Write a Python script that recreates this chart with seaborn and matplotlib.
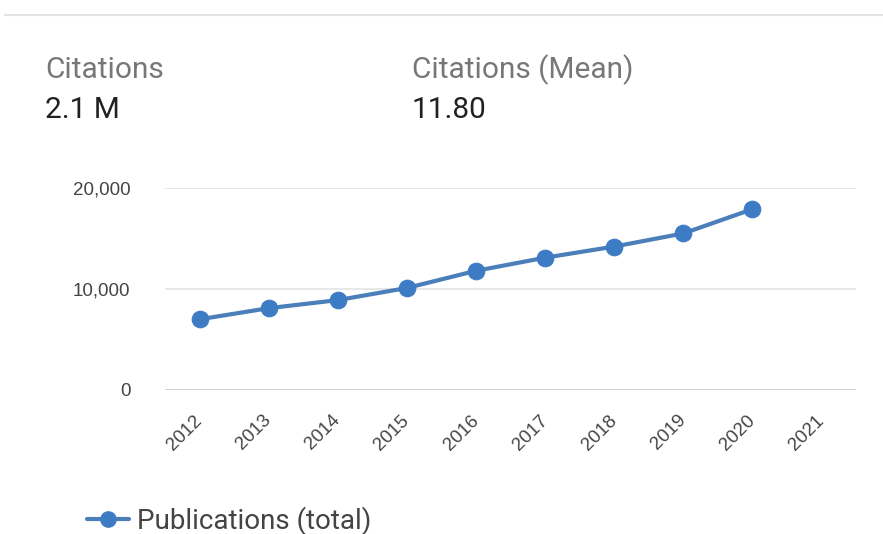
import matplotlib
matplotlib.use("Agg")
import matplotlib.pyplot as plt
import seaborn as sns
import pandas as pd
import numpy as np
from matplotlib.lines import Line2D

years = [2012, 2013, 2014, 2015, 2016, 2017, 2018, 2019, 2020, 2021]
publications = [7000, 8100, 8900, 10100, 11800, 13100, 14200, 15500, 17900, np.nan]
y_ticks = [0, 10000, 20000]
y_tick_labels = ["0", "10,000", "20,000"]
series_name = "Publications (total)"
stat_labels = ["Citations", "Citations (Mean)"]
stat_values = ["2.1 M", "11.80"]

sns.set_theme(style="white")
plt.rcParams['font.family'] = ['Roboto', 'DejaVu Sans']

W, H = 883, 534
fig = plt.figure(figsize=(W / 100, H / 100), dpi=100)
fig.patch.set_facecolor("white")

# top separator
fig.add_artist(Line2D([5 / W, 1.0], [1 - 15 / H, 1 - 15 / H], color="#e3e3e3", lw=1.5))

# header stats
for i, (lab, val) in enumerate(zip(stat_labels, stat_values)):
    x = [45, 412][i] / W
    fig.text(x, 1 - 78 / H, lab, fontsize=21.5, color="#777777", va="baseline", ha="left")
    fig.text(x, 1 - 118 / H, val, fontsize=21.5, color="#212121", va="baseline", ha="left")

ax = fig.add_axes([165 / W, 1 - 390 / H, (856 - 165) / W, (390 - 188) / H])
df = pd.DataFrame({"year": years, "value": publications})
color_line = "#4b7fba"
sns.lineplot(data=df.dropna(), x="year", y="value", ax=ax, color=color_line, lw=3,
             marker="o", markersize=12, markerfacecolor="#3d7cc4", markeredgecolor="#3d7cc4",
             label=series_name, legend=False)

tick_font = ['Liberation Sans', 'DejaVu Sans']
ax.set_xlim(years[0] - 0.5, years[-1] + 0.5)
ax.set_ylim(0, 20000)
ax.set_xticks(years)
ax.set_xticklabels([str(y) for y in years], rotation=45, ha="right", va="center",
                   rotation_mode="anchor", fontsize=13.5, color="#444444", family=tick_font)
ax.set_yticks(y_ticks)
ax.set_yticklabels(y_tick_labels, fontsize=13.5, color="#444444", family=tick_font)
ax.tick_params(axis="y", length=0, pad=25)
ax.tick_params(axis="x", length=0, pad=20)
ax.set_xlabel("")
ax.set_ylabel("")
for s in ax.spines.values():
    s.set_visible(False)
for yv in y_ticks:
    ax.axhline(yv, color="#cccccc" if yv == 0 else "#e8e8e8", lw=2 if yv == 0 else 1.4, zorder=0)
ax.set_facecolor("white")

handle = Line2D([], [], color=color_line, lw=3, marker="o", markersize=11,
                markerfacecolor="#3d7cc4", markeredgecolor="#3d7cc4")
fig.legend([handle], [series_name], loc="center left", bbox_to_anchor=(62 / W, 1 - 521 / H),
           frameon=False, fontsize=20, handlelength=1.5, handletextpad=0.3,
           labelcolor="#444444")

fig.savefig("out.png", dpi=100, facecolor="white")
